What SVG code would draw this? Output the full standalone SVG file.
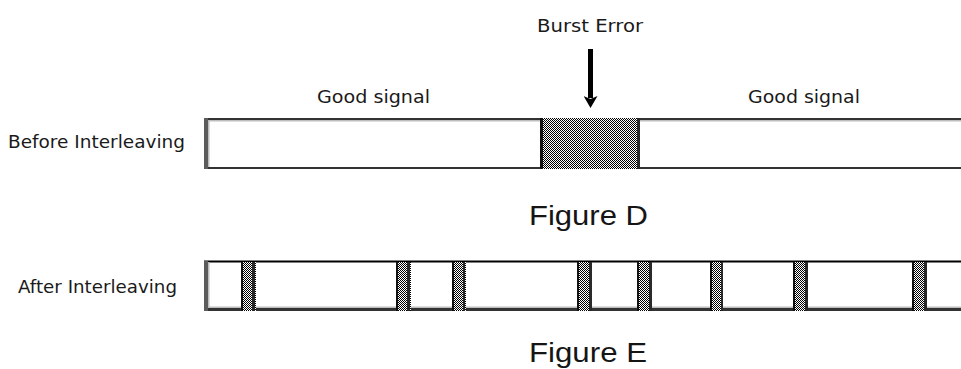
<svg xmlns="http://www.w3.org/2000/svg" width="961" height="369" viewBox="0 0 961 369">
<style>
.lbl{font-family:"DejaVu Sans","Liberation Sans",Arial,sans-serif;font-size:18px;fill:#1a1a1a}
.fig{font-family:"Liberation Sans",Arial,sans-serif;font-size:28px;fill:#151515}
.chk{fill:url(#checker)}
.edgeL{fill:#111}
.edgeR{fill:#2a2a2a}
.shade{fill:#bdbdbd}
.dark{fill:#333}
.side{fill:#5c5c5c}
</style>
<defs>
<pattern id="checker" x="0" y="0" width="2" height="2" patternUnits="userSpaceOnUse">
<rect width="2" height="2" fill="#fff"/>
<rect width="1" height="1" fill="#000"/>
<rect x="1" y="1" width="1" height="1" fill="#000"/>
</pattern>
<marker id="ah" markerUnits="userSpaceOnUse" markerWidth="12" markerHeight="14" refX="2" refY="7" orient="auto" viewBox="0 0 12 14">
<path d="M0,0 L12,7 L0,14 L3,7 Z" fill="#000"/>
</marker>
</defs>
<rect width="961" height="369" fill="#fff"/>

<g id="label-burst-error"><text class="lbl" x="537" y="32" textLength="106" lengthAdjust="spacingAndGlyphs">Burst Error</text></g>
<g id="label-good-signal-left"><text class="lbl" x="317" y="103" textLength="113" lengthAdjust="spacingAndGlyphs">Good signal</text></g>
<g id="label-good-signal-right"><text class="lbl" x="748" y="103" textLength="112" lengthAdjust="spacingAndGlyphs">Good signal</text></g>
<g id="label-before"><text class="lbl" x="8" y="148" textLength="177" lengthAdjust="spacingAndGlyphs">Before Interleaving</text></g>
<g id="label-after"><text class="lbl" x="18" y="293" textLength="159" lengthAdjust="spacingAndGlyphs">After Interleaving</text></g>
<g id="label-figure-d"><text class="fig" x="529" y="225" textLength="119" lengthAdjust="spacingAndGlyphs">Figure D</text></g>
<g id="label-figure-e"><text class="fig" x="529" y="362" textLength="118" lengthAdjust="spacingAndGlyphs">Figure E</text></g>

<g id="bar-before">
<rect x="204" y="118" width="757" height="51" fill="#fff"/>
<rect class="dark" x="204" y="118" width="757" height="2"/>
<rect class="shade" x="208" y="120" width="753" height="1.5"/>
<rect class="dark" x="204" y="167" width="757" height="2"/>
<rect class="side" x="204" y="118" width="4" height="51"/>
<rect class="shade" x="208" y="120" width="1.5" height="47"/>
<g id="burst-block">
<rect class="chk" x="540" y="118" width="100" height="51"/>
<rect class="edgeL" x="540" y="118" width="3" height="51"/>
<rect class="edgeR" x="637" y="118" width="3" height="51"/>
</g>
</g>

<g id="bar-after">
<rect x="204" y="261" width="757" height="50" fill="#fff"/>
<rect fill="#000" x="204" y="260.5" width="757" height="2"/>
<rect class="shade" x="208" y="306.5" width="753" height="1.5"/>
<rect class="dark" x="204" y="308" width="757" height="3"/>
<rect class="side" x="204" y="261" width="4" height="50"/>
<rect class="shade" x="208" y="262" width="1.5" height="46"/>
<g id="error-blocks">
<g><rect class="chk" x="241" y="262" width="15" height="49"/><rect class="edgeL" x="241" y="262" width="2" height="49"/><rect class="edgeR" x="252" y="262" width="3" height="49"/></g>
<g><rect class="chk" x="396" y="262" width="15" height="49"/><rect class="edgeL" x="396" y="262" width="2" height="49"/><rect class="edgeR" x="407" y="262" width="3" height="49"/></g>
<g><rect class="chk" x="452" y="262" width="14" height="49"/><rect class="edgeL" x="452" y="262" width="2" height="49"/><rect class="edgeR" x="463" y="262" width="2" height="49"/></g>
<g><rect class="chk" x="577" y="262" width="15" height="49"/><rect class="edgeL" x="577" y="262" width="2" height="49"/><rect class="edgeR" x="589" y="262" width="3" height="49"/></g>
<g><rect class="chk" x="637" y="262" width="15" height="49"/><rect class="edgeL" x="637" y="262" width="2" height="49"/><rect class="edgeR" x="649" y="262" width="3" height="49"/></g>
<g><rect class="chk" x="710" y="262" width="13" height="49"/><rect class="edgeL" x="710" y="262" width="2" height="49"/><rect class="edgeR" x="721" y="262" width="2" height="49"/></g>
<g><rect class="chk" x="793" y="262" width="15" height="49"/><rect class="edgeL" x="793" y="262" width="2" height="49"/><rect class="edgeR" x="805" y="262" width="3" height="49"/></g>
<g><rect class="chk" x="912" y="262" width="15" height="49"/><rect class="edgeL" x="912" y="262" width="2" height="49"/><rect class="edgeR" x="924" y="262" width="3" height="49"/></g>
</g>
</g>

<g id="connectors">
<line x1="590.5" y1="49" x2="590.5" y2="98" stroke="#000" stroke-width="5" marker-end="url(#ah)"/>
</g>
</svg>
